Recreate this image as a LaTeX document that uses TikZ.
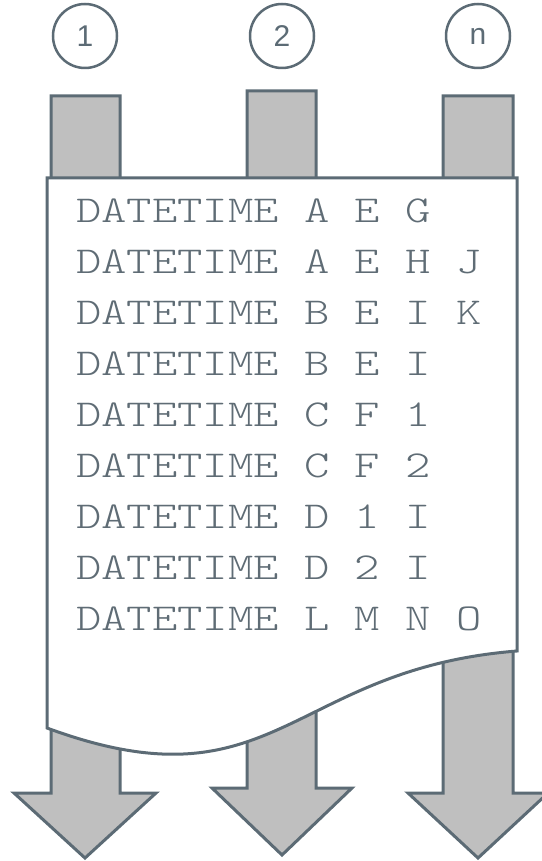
\documentclass[tikz,border=0pt]{standalone}
\usepackage{fontspec}
\setmainfont{Liberation Sans}
\definecolor{slate}{HTML}{5C6B75}
\definecolor{txtc}{HTML}{5F6C75}
\definecolor{arrfill}{HTML}{BFBFBF}
\begin{document}
\begin{tikzpicture}[x=1pt,y=-1pt,
  numcirc/.style={circle,draw=slate,line width=2.5pt,minimum size=64pt,inner sep=0pt,text=slate,font=\fontsize{30}{32}\selectfont},
  bigarrow/.style={draw=slate,fill=arrfill,line width=3pt,line join=miter},
  docshape/.style={draw=slate,fill=white,line width=3pt},
  row/.style={anchor=base west,inner sep=0pt,text=txtc,xscale=1.27,
    font=\ttfamily\fontseries{l}\fontsize{38}{40}\selectfont}]
\useasboundingbox (0,0) rectangle (541,861);
% numbered circles
\node[numcirc] (c1) at (85,36) {1};
\node[numcirc] (c2) at (282,36) {2};
\node[numcirc] (cn) at (478,36) {n};
% arrows behind the document
\draw[bigarrow] (51,96) -- (120,96) -- (120,793) -- (156,793) -- (85,858) -- (14,793) -- (51,793) -- cycle;
\draw[bigarrow] (247,91) -- (316,91) -- (316,788) -- (352,788) -- (282,855) -- (212,788) -- (247,788) -- cycle;
\draw[bigarrow] (443,96) -- (513,96) -- (513,793) -- (548,793) -- (478,858) -- (408,793) -- (443,793) -- cycle;
% document
\draw[docshape] (47,178) -- (517,178) -- (517,651) .. controls (289,669) and (275,812) .. (47,728) -- cycle;
% rows
\node[row] (r1) at (76,222) {DATETIME A E G};
\node[row] (r2) at (76,273) {DATETIME A E H J};
\node[row] (r3) at (76,324) {DATETIME B E I K};
\node[row] (r4) at (76,375) {DATETIME B E I};
\node[row] (r5) at (76,426) {DATETIME C F 1};
\node[row] (r6) at (76,477) {DATETIME C F 2};
\node[row] (r7) at (76,528) {DATETIME D 1 I};
\node[row] (r8) at (76,579) {DATETIME D 2 I};
\node[row] (r9) at (76,630) {DATETIME L M N O};
\end{tikzpicture}
\end{document}
